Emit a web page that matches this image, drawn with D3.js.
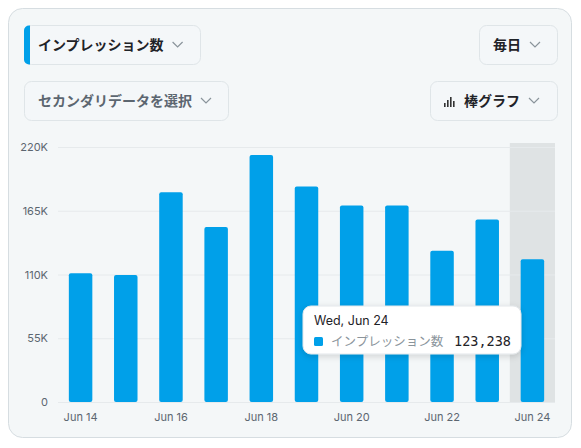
<!DOCTYPE html>
<html><head><meta charset="utf-8">
<script src="https://cdn.jsdelivr.net/npm/d3@7"></script>
<style>
body{margin:0;background:#fff;font-family:"Noto Sans CJK JP","Noto Sans",sans-serif;}
</style></head>
<body><svg id="chart" width="581" height="448"></svg>
<script>
const days = ["Jun 14","Jun 15","Jun 16","Jun 17","Jun 18","Jun 19","Jun 20","Jun 21","Jun 22","Jun 23","Jun 24"];
const impressions = [111000,109500,181000,151000,213000,186000,169500,169500,130500,157500,123238];
const yTicks = [0,55000,110000,165000,220000];
const xLabels = ["Jun 14","Jun 16","Jun 18","Jun 20","Jun 22","Jun 24"];

const svg = d3.select("#chart");
const blue = "#00a0e9";
const defs = svg.append("defs");
const f = defs.append("filter").attr("id","sh").attr("x","-20%").attr("y","-30%").attr("width","140%").attr("height","170%");
f.append("feDropShadow").attr("dx",0).attr("dy",2).attr("stdDeviation",3).attr("flood-opacity",0.15);

svg.append("rect").attr("x",8.5).attr("y",8.5).attr("width",563).attr("height",429).attr("rx",14)
  .attr("fill","#f4f7f8").attr("stroke","#d6dde1");

function button(x,y,w,label,opts={}){
  const g=svg.append("g");
  g.append("rect").attr("x",x+.5).attr("y",y+.5).attr("width",w).attr("height",39).attr("rx",7)
    .attr("fill","#f4f7f9").attr("stroke","#dfe5e8");
  if(opts.accent){
    g.append("path").attr("d",`M${x+6},${y+.5} h-1 a5,5 0 0 0 -5,5 v29 a5,5 0 0 0 5,5 h1 z`).attr("fill",blue);
  }
  let tx=x+(opts.pad||14);
  if(opts.icon){
    const ix=tx, by=y+26;
    [[0,4],[3,7],[6,10],[9,6]].forEach(([dx,h])=>g.append("rect").attr("x",ix+dx).attr("y",by-h).attr("width",1.6).attr("height",h).attr("fill","#333"));
    tx+=20;
  }
  const t=g.append("text").attr("x",tx).attr("y",y+25).attr("font-size",14).attr("font-weight",700)
    .attr("fill",opts.color||"#1f2328").text(label);
  const tw=t.node().getComputedTextLength();
  const cx=tx+tw+14;
  g.append("path").attr("d",`M${cx-5},${y+17} l5,5 l5,-5`).attr("fill","none").attr("stroke","#8a949b").attr("stroke-width",1.2);
}
button(24,25,176,"インプレッション数",{accent:true,pad:14});
button(479,25,78,"毎日");
button(24,81,204,"セカンダリデータを選択",{color:"#5c6670"});
button(430,81,127,"棒グラフ",{icon:true});

const x = d3.scaleBand().domain(days).range([58,555]).paddingInner(0.48).paddingOuter(0.24);
const y = d3.scaleLinear().domain([0,220000]).range([402,147]);

svg.append("rect").attr("x",x(days[10])-x.step()*x.paddingInner()/2).attr("y",143)
  .attr("width",x.step()).attr("height",259).attr("fill","#dfe3e4");

svg.append("g").selectAll("line").data(yTicks).join("line")
  .attr("x1",58).attr("x2",555).attr("y1",d=>y(d)+.5).attr("y2",d=>y(d)+.5)
  .attr("stroke","#e6eaec");

const yAxis = svg.append("g").attr("transform","translate(51,0)")
  .call(d3.axisLeft(y).tickValues(yTicks).tickSize(0).tickFormat(d=>d===0?"0":d3.format("~s")(d).replace("k","K")));
yAxis.select(".domain").remove();
yAxis.selectAll("text").attr("font-size",11).attr("fill","#5c6670").attr("font-family","Inter,sans-serif");

svg.append("g").selectAll("rect").data(impressions).join("rect")
  .attr("x",(d,i)=>x(days[i])).attr("width",x.bandwidth())
  .attr("y",d=>y(d)).attr("height",d=>y(0)-y(d)).attr("rx",2).attr("fill",blue);

const xAxis = svg.append("g").attr("transform","translate(0,410)")
  .call(d3.axisBottom(x).tickValues(xLabels).tickSize(0));
xAxis.select(".domain").remove();
xAxis.selectAll("text").attr("font-size",11).attr("fill","#5c6670").attr("font-family","Inter,sans-serif");

const tt=svg.append("g");
tt.append("rect").attr("x",303).attr("y",306).attr("width",218).attr("height",48).attr("rx",8)
  .attr("fill","#fff").attr("stroke","#e3e7ea").attr("filter","url(#sh)");
tt.append("text").attr("x",314).attr("y",325).attr("font-size",12.5).attr("fill","#1f2328")
  .attr("font-family","Inter,sans-serif").text("Wed, Jun 24");
tt.append("rect").attr("x",314).attr("y",337).attr("width",9).attr("height",9).attr("rx",1.5).attr("fill",blue);
tt.append("text").attr("x",331).attr("y",346).attr("font-size",12.5).attr("fill","#8a949b").text("インプレッション数");
tt.append("text").attr("x",511).attr("y",346).attr("text-anchor","end").attr("font-size",13.5)
  .attr("fill","#1f2328").attr("font-family","DejaVu Sans Mono,monospace").text(d3.format(",")(impressions[10]));
</script></body></html>
